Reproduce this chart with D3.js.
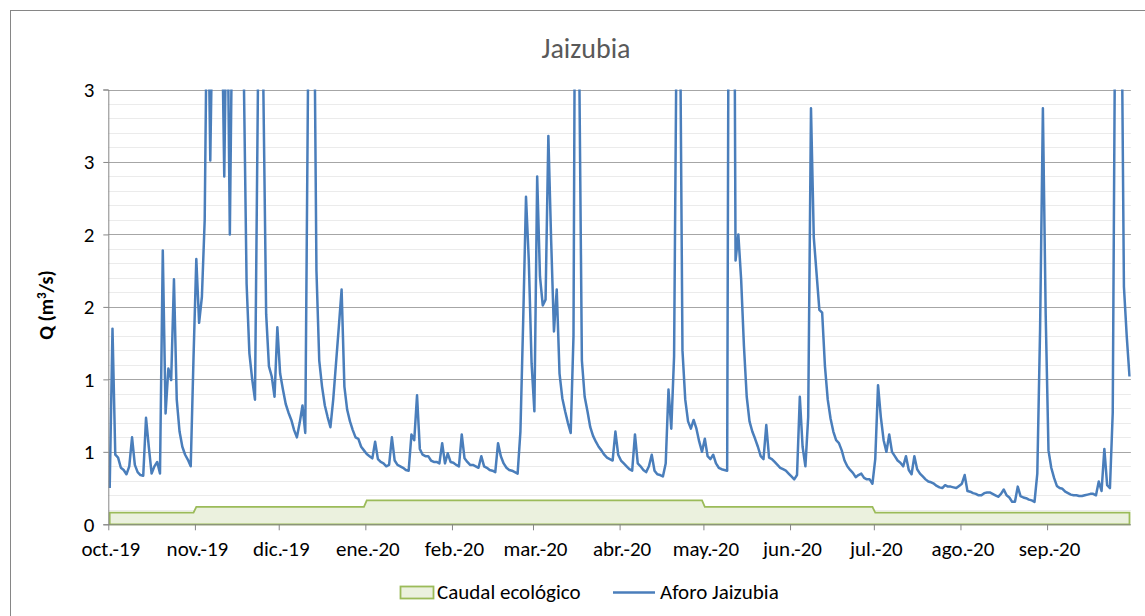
<!DOCTYPE html>
<html>
<head>
<meta charset="utf-8">
<script src="https://cdn.jsdelivr.net/npm/d3@7"></script>
<style>
  body { margin: 0; background: #fff; }
  svg { display: block; font-family: Calibri, Carlito, Lato, "Open Sans", sans-serif; }
</style>
</head>
<body>
<svg id="chart" width="1145" height="616"></svg>
<script>
// caudal diario aforo Jaizubia (m3/s), un array por mes
const octubre = [0.25,1.35,0.48,0.46,0.39,0.375,0.345,0.40,0.60,0.41,0.36,0.34,0.335,0.735,0.535,0.35,0.40,0.43,0.35,1.89,0.765,1.075,0.995,1.69,0.86,0.64,0.535,0.48,0.445,0.40,1.15];
const noviembre = [1.83,1.39,1.57,2.1,4.0,2.51,3.8,4.2,4.5,3.75,2.40,3.9,2.0,3.8,4.5,5.0,4.5,3.1,1.66,1.18,1.0,0.86,2.9,5.0,3.0,1.45,1.09,1.02,0.88,1.36];
const diciembre = [1.04,0.93,0.83,0.77,0.72,0.65,0.60,0.70,0.82,0.63,3.1,5.5,4.1,1.75,1.13,0.95,0.82,0.74,0.67,0.86,1.11,1.36,1.62,0.95,0.79,0.71,0.65,0.60,0.59,0.535,0.51];
const enero = [0.485,0.47,0.455,0.57,0.45,0.43,0.42,0.40,0.41,0.60,0.44,0.41,0.40,0.39,0.375,0.37,0.62,0.58,0.89,0.52,0.48,0.47,0.47,0.44,0.43,0.43,0.42,0.56,0.42,0.49,0.43];
const febrero = [0.425,0.41,0.40,0.62,0.455,0.43,0.41,0.41,0.40,0.39,0.47,0.40,0.39,0.375,0.37,0.36,0.56,0.47,0.42,0.39,0.375,0.37,0.36,0.35,0.64,1.41,2.26,1.82,1.11];
const marzo = [0.78,2.40,1.71,1.51,1.55,2.68,1.96,1.33,1.62,1.04,0.87,0.78,0.70,0.63,1.3,6.0,3.3,1.13,0.88,0.78,0.67,0.61,0.57,0.535,0.51,0.48,0.46,0.45,0.44,0.64,0.48];
const abril = [0.44,0.42,0.40,0.38,0.37,0.62,0.42,0.40,0.375,0.36,0.40,0.48,0.37,0.345,0.34,0.33,0.42,0.93,0.66,1.16,3.7,3.9,1.2,0.86,0.71,0.66,0.72,0.66,0.57,0.50];
const mayo = [0.59,0.47,0.45,0.48,0.42,0.39,0.38,0.375,0.37,7.0,6.5,1.82,2.0,1.69,1.23,0.88,0.71,0.64,0.59,0.535,0.47,0.45,0.685,0.46,0.45,0.43,0.41,0.39,0.38,0.37,0.35];
const junio = [0.33,0.31,0.34,0.88,0.535,0.40,0.74,2.87,1.98,1.73,1.48,1.46,1.09,0.86,0.73,0.64,0.58,0.56,0.51,0.44,0.40,0.375,0.355,0.325,0.34,0.35,0.32,0.31,0.31,0.28];
const julio = [0.45,0.96,0.74,0.58,0.50,0.62,0.50,0.47,0.44,0.425,0.40,0.47,0.375,0.345,0.47,0.38,0.35,0.33,0.31,0.295,0.29,0.28,0.265,0.255,0.25,0.27,0.26,0.26,0.255,0.25,0.265];
const agosto = [0.28,0.34,0.23,0.225,0.215,0.21,0.20,0.20,0.215,0.22,0.22,0.21,0.20,0.19,0.21,0.24,0.20,0.185,0.155,0.155,0.26,0.195,0.185,0.18,0.17,0.165,0.155,0.35,1.35,2.87,1.45];
const septiembre = [0.51,0.39,0.32,0.265,0.25,0.245,0.225,0.215,0.205,0.20,0.20,0.195,0.195,0.20,0.205,0.21,0.21,0.20,0.295,0.23,0.52,0.27,0.25,0.77,4.0,5.0,4.0,1.64,1.3,1.02];

// caudal ecologico por mes (oct..sep)
const caudalEcologico = [0.08,0.12,0.12,0.165,0.165,0.165,0.165,0.12,0.12,0.08,0.08,0.08];
const etiquetasMes = ["oct.-19","nov.-19","dic.-19","ene.-20","feb.-20","mar.-20","abr.-20","may.-20","jun.-20","jul.-20","ago.-20","sep.-20"];
const yTicks = [0,0.5,1,1.5,2,2.5,3];

const svg = d3.select('#chart');
const m = { left: 108.3, right: 1130.9, top: 89.5, bottom: 524.3 };
const fuente = 'Calibri, Carlito, Lato, "Open Sans", sans-serif';

const inicio = new Date(Date.UTC(2019, 9, 1));
const fin = new Date(Date.UTC(2020, 9, 1));
const aforo = [].concat(octubre, noviembre, diciembre, enero, febrero, marzo, abril, mayo, junio, julio, agosto, septiembre)
  .map((v, i) => ({ date: new Date(Date.UTC(2019, 9, 1 + i, 12)), v }));
const meses = d3.utcMonth.range(inicio, fin);

// puntos del caudal ecologico: primer y ultimo dia de cada mes
const ecologico = [];
meses.forEach((d, i) => {
  const next = d3.utcMonth.offset(d, 1);
  ecologico.push({ date: d3.utcHour.offset(d, 12), v: caudalEcologico[i] });
  ecologico.push({ date: d3.utcHour.offset(d3.utcDay.offset(next, -1), 12), v: caudalEcologico[i] });
});

const x = d3.scaleUtc().domain([inicio, fin]).range([m.left, m.right]);
const y = d3.scaleLinear().domain([0, 3]).range([m.bottom, m.top]);

// marco del grafico
svg.append('rect')
  .attr('x', 10.5).attr('y', 10.5)
  .attr('width', 1160).attr('height', 640)
  .attr('fill', '#fff').attr('stroke', '#868686');

// titulo
svg.append('text')
  .attr('x', 586).attr('y', 58)
  .attr('text-anchor', 'middle')
  .attr('font-size', 28)
  .attr('fill', '#595959')
  .text('Jaizubia');

// rejilla secundaria y principal
const minor = d3.range(1, 30).map(i => i / 10).filter(v => Math.abs(v * 2 - Math.round(v * 2)) > 1e-6);
svg.append('g').selectAll('line').data(minor).join('line')
  .attr('x1', m.left).attr('x2', m.right)
  .attr('y1', d => Math.round(y(d)) + 0.5).attr('y2', d => Math.round(y(d)) + 0.5)
  .attr('stroke', '#ebebeb');
svg.append('g').selectAll('line').data(yTicks.slice(1)).join('line')
  .attr('x1', m.left).attr('x2', m.right)
  .attr('y1', d => Math.round(y(d)) + 0.5).attr('y2', d => Math.round(y(d)) + 0.5)
  .attr('stroke', '#a6a6a6');

// area caudal ecologico
svg.append('path')
  .datum(ecologico)
  .attr('d', d3.area().x(d => x(d.date)).y0(y(0)).y1(d => y(d.v)))
  .attr('fill', '#ebf1de')
  .attr('stroke', '#9bbb59')
  .attr('stroke-width', 1.8);

// linea aforo
svg.append('clipPath').attr('id', 'clip')
  .append('rect')
  .attr('x', m.left).attr('y', m.top)
  .attr('width', m.right - m.left).attr('height', m.bottom - m.top);

svg.append('path')
  .datum(aforo)
  .attr('clip-path', 'url(#clip)')
  .attr('d', d3.line().x(d => x(d.date)).y(d => y(d.v)))
  .attr('fill', 'none')
  .attr('stroke', '#4a7ebb')
  .attr('stroke-width', 2.5)
  .attr('stroke-linejoin', 'round');

// ejes
const fmt = d => String(Math.round(d));
const gy = svg.append('g')
  .attr('transform', `translate(${m.left},0)`)
  .call(d3.axisLeft(y).tickValues(yTicks).tickSize(5).tickPadding(9).tickFormat(fmt));
const gx = svg.append('g')
  .attr('transform', `translate(0,${m.bottom})`)
  .call(d3.axisBottom(x).tickValues(meses).tickSize(6).tickPadding(11)
    .tickFormat((d, i) => etiquetasMes[i]));

[gx, gy].forEach(g => {
  g.select('.domain').attr('stroke', '#868686');
  g.selectAll('.tick line').attr('stroke', '#868686');
  g.selectAll('.tick text')
    .attr('fill', '#000')
    .attr('font-size', 21)
    .style('font-family', fuente);
});
gx.select('.domain').attr('d', `M${m.left},0.5H${m.right}`);
gx.selectAll('.tick text').attr('dx', 2);

// titulo eje y
svg.append('text')
  .attr('transform', 'translate(53,305) rotate(-90)')
  .attr('text-anchor', 'middle')
  .attr('font-size', 20)
  .attr('font-weight', 'bold')
  .attr('fill', '#000')
  .html('Q (m<tspan baseline-shift="super" font-size="13">3</tspan>/s)');

// leyenda
const ley = svg.append('g').attr('font-size', 21).attr('fill', '#000');
ley.append('rect')
  .attr('x', 400.5).attr('y', 586.5).attr('width', 33).attr('height', 12)
  .attr('fill', '#ebf1de').attr('stroke', '#9bbb59').attr('stroke-width', 1.8);
ley.append('text')
  .attr('x', 437).attr('y', 599)
  .text('Caudal ecológico');
ley.append('line')
  .attr('x1', 613).attr('x2', 655).attr('y1', 592.5).attr('y2', 592.5)
  .attr('stroke', '#4a7ebb').attr('stroke-width', 2.5);
ley.append('text')
  .attr('x', 660).attr('y', 599)
  .text('Aforo Jaizubia');
</script>
</body>
</html>
